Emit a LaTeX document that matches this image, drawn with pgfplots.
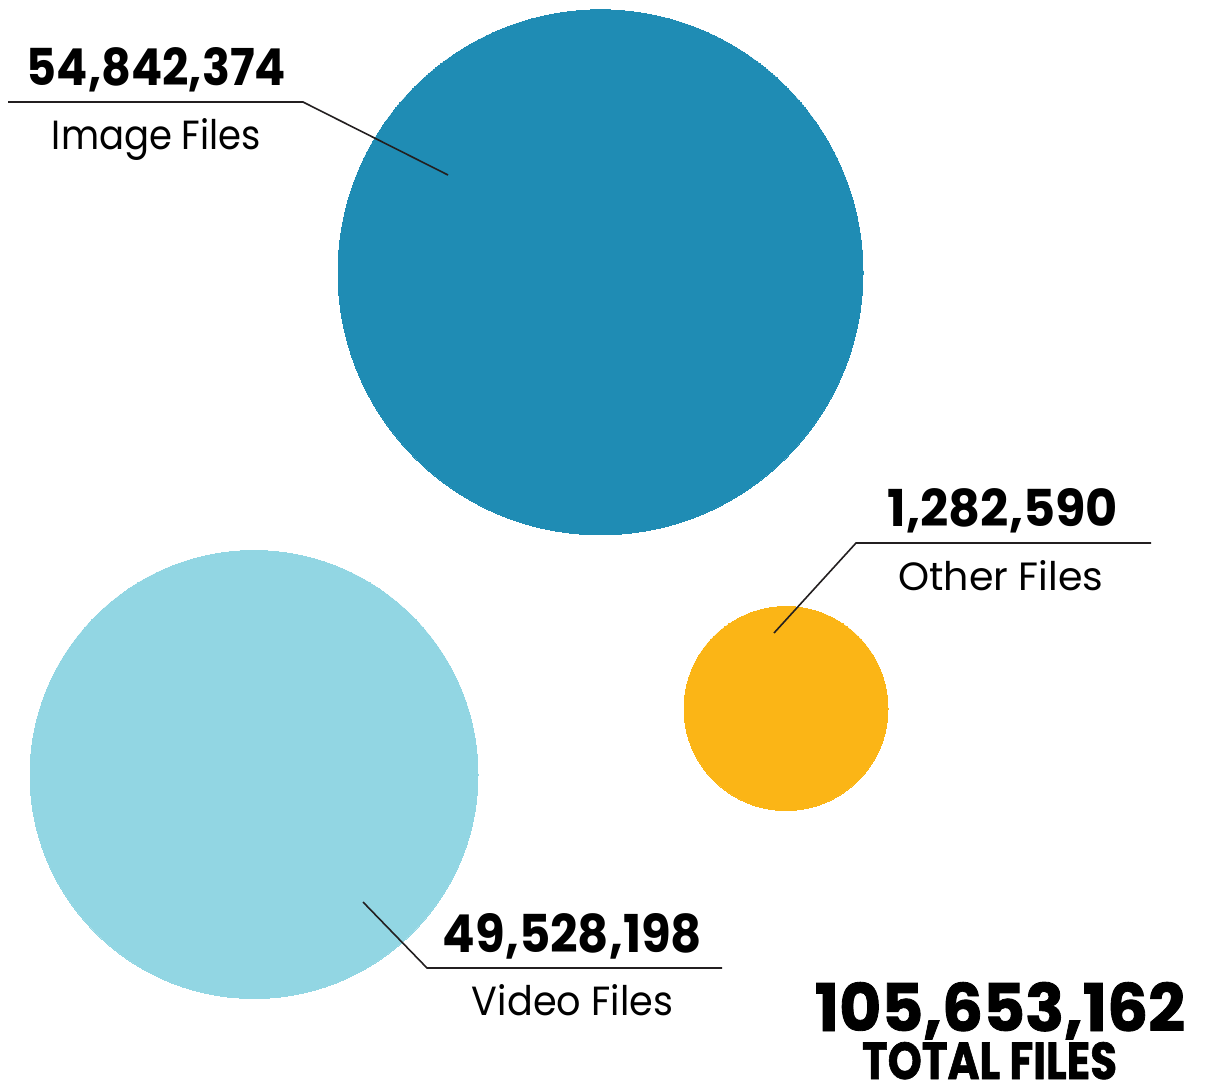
\documentclass[border=0pt]{standalone}
\usepackage{pgfplots}
\pgfplotsset{compat=1.18}
\usepackage{fontspec}
\setmainfont{Poppins}
\newfontfamily\heavy[BoldFeatures={FakeBold=1.3}]{Poppins}
\definecolor{imgblue}{HTML}{1F8CB4}
\definecolor{vidblue}{HTML}{92D6E3}
\definecolor{othyel}{HTML}{FBB516}
\definecolor{txt}{HTML}{231F20}
\newcommand{\fit}[3]{\resizebox{#1bp}{#2bp}{#3}}
\begin{document}
\begin{tikzpicture}
\begin{axis}[
  width=1207bp, height=1082bp, scale only axis,
  xmin=0, xmax=1207, ymin=0, ymax=1082, y dir=reverse,
  hide axis, clip=false, clip marker paths=true,
  every node/.style={text=txt, inner sep=0pt, outer sep=0pt},
]
% bubbles: centre (x,y) in pixels, radius in pixels
\addplot[color=imgblue, only marks, mark=*, mark size=262.5bp, mark options={draw=imgblue, fill=imgblue, line width=0pt}] coordinates {(600.5,272.3)};
\addplot[color=vidblue, only marks, mark=*, mark size=224bp, mark options={draw=vidblue, fill=vidblue, line width=0pt}] coordinates {(254,774.5)};
\addplot[color=othyel, only marks, mark=*, mark size=102bp, mark options={draw=othyel, fill=othyel, line width=0pt}] coordinates {(786,708.5)};
% leader lines
\addplot[txt, line width=1.6bp] coordinates {(8,102) (303,102) (448,175)};
\addplot[txt, line width=1.6bp] coordinates {(1151,543) (856,543) (774,633)};
\addplot[txt, line width=1.6bp] coordinates {(722,968) (427,968) (363,902)};
% labels
\node[anchor=base] at (axis cs:156.5,86) {\fit{259}{38}{\bfseries 54,842,374}};
\node[anchor=base] at (axis cs:156.5,150) {\fit{209}{31}{Image Files}};
\node[anchor=base] at (axis cs:1003,526) {\fit{230}{38}{\bfseries 1,282,590}};
\node[anchor=base] at (axis cs:1001,590) {\fit{205}{30}{Other Files}};
\node[anchor=base] at (axis cs:572.5,952) {\fit{259}{39}{\bfseries 49,528,198}};
\node[anchor=base] at (axis cs:572.5,1015) {\fit{201}{31}{Video Files}};
\node[anchor=base] at (axis cs:1000,1031) {\fit{370}{49}{\heavy\bfseries 105,653,162}};
\node[anchor=base] at (axis cs:989.5,1079) {\fit{255}{37}{\heavy\bfseries TOTAL FILES}};
\end{axis}
\pgfresetboundingbox
\path[use as bounding box] (current axis.south west) rectangle (current axis.north east);
\end{tikzpicture}
\end{document}
